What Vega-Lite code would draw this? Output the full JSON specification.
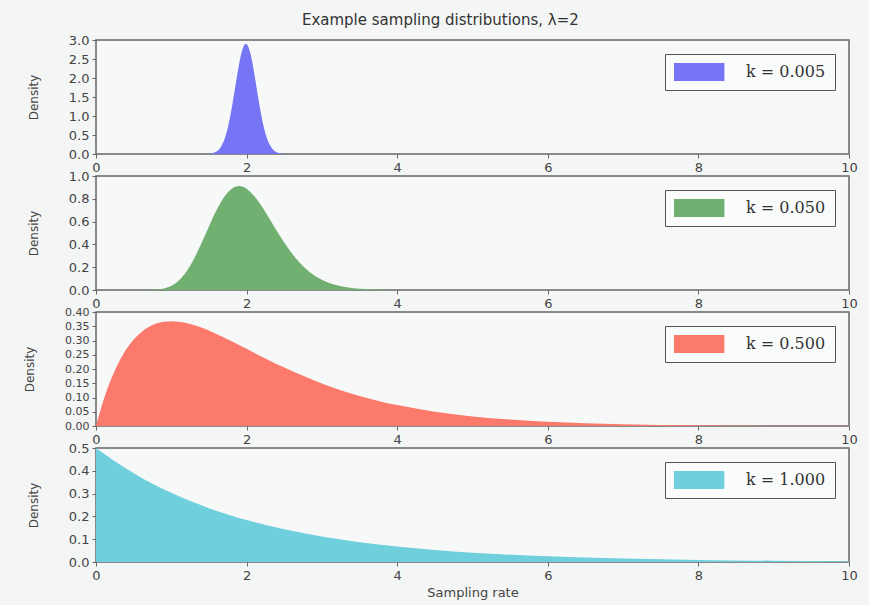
{
  "$schema": "https://vega.github.io/schema/vega-lite/v6.json",
  "background": "#f4f6f6",
  "padding": {"left": 22, "top": 13, "right": 12, "bottom": 5},
  "bounds": "flush",
  "spacing": 22,
  "title": {"text": "Example sampling distributions, λ=2", "fontSize": 15, "font": "DejaVu Sans", "fontWeight": "normal", "color": "#333", "anchor": "middle", "offset": 5},
  "datasets": {
    "d": [
      {"k": "k = 0.005", "x": 0, "y": 0},
      {"k": "k = 0.005", "x": 1.4, "y": 0},
      {"k": "k = 0.005", "x": 1.5, "y": 0.007},
      {"k": "k = 0.005", "x": 1.6, "y": 0.065},
      {"k": "k = 0.005", "x": 1.65, "y": 0.16},
      {"k": "k = 0.005", "x": 1.7, "y": 0.355},
      {"k": "k = 0.005", "x": 1.75, "y": 0.685},
      {"k": "k = 0.005", "x": 1.8, "y": 1.175},
      {"k": "k = 0.005", "x": 1.85, "y": 1.775},
      {"k": "k = 0.005", "x": 1.9, "y": 2.365},
      {"k": "k = 0.005", "x": 1.95, "y": 2.78},
      {"k": "k = 0.005", "x": 1.99, "y": 2.9},
      {"k": "k = 0.005", "x": 2.05, "y": 2.65},
      {"k": "k = 0.005", "x": 2.1, "y": 2.14},
      {"k": "k = 0.005", "x": 2.15, "y": 1.53},
      {"k": "k = 0.005", "x": 2.2, "y": 0.965},
      {"k": "k = 0.005", "x": 2.25, "y": 0.54},
      {"k": "k = 0.005", "x": 2.3, "y": 0.27},
      {"k": "k = 0.005", "x": 2.35, "y": 0.12},
      {"k": "k = 0.005", "x": 2.4, "y": 0.047},
      {"k": "k = 0.005", "x": 2.5, "y": 0.006},
      {"k": "k = 0.005", "x": 2.6, "y": 0},
      {"k": "k = 0.005", "x": 10, "y": 0},

      {"k": "k = 0.050", "x": 0, "y": 0},
      {"k": "k = 0.050", "x": 0.6, "y": 0},
      {"k": "k = 0.050", "x": 0.8, "y": 0.004},
      {"k": "k = 0.050", "x": 0.9, "y": 0.014},
      {"k": "k = 0.050", "x": 1.0, "y": 0.037},
      {"k": "k = 0.050", "x": 1.1, "y": 0.084},
      {"k": "k = 0.050", "x": 1.2, "y": 0.161},
      {"k": "k = 0.050", "x": 1.3, "y": 0.272},
      {"k": "k = 0.050", "x": 1.4, "y": 0.409},
      {"k": "k = 0.050", "x": 1.5, "y": 0.558},
      {"k": "k = 0.050", "x": 1.6, "y": 0.699},
      {"k": "k = 0.050", "x": 1.7, "y": 0.814},
      {"k": "k = 0.050", "x": 1.8, "y": 0.887},
      {"k": "k = 0.050", "x": 1.9, "y": 0.912},
      {"k": "k = 0.050", "x": 2.0, "y": 0.889},
      {"k": "k = 0.050", "x": 2.1, "y": 0.825},
      {"k": "k = 0.050", "x": 2.2, "y": 0.736},
      {"k": "k = 0.050", "x": 2.3, "y": 0.63},
      {"k": "k = 0.050", "x": 2.4, "y": 0.52},
      {"k": "k = 0.050", "x": 2.5, "y": 0.416},
      {"k": "k = 0.050", "x": 2.6, "y": 0.322},
      {"k": "k = 0.050", "x": 2.8, "y": 0.178},
      {"k": "k = 0.050", "x": 3.0, "y": 0.089},
      {"k": "k = 0.050", "x": 3.2, "y": 0.041},
      {"k": "k = 0.050", "x": 3.5, "y": 0.011},
      {"k": "k = 0.050", "x": 4.0, "y": 0.001},
      {"k": "k = 0.050", "x": 4.5, "y": 0},
      {"k": "k = 0.050", "x": 10, "y": 0},

      {"k": "k = 0.500", "x": 0, "y": 0},
      {"k": "k = 0.500", "x": 0.1, "y": 0.0905},
      {"k": "k = 0.500", "x": 0.2, "y": 0.1637},
      {"k": "k = 0.500", "x": 0.3, "y": 0.2222},
      {"k": "k = 0.500", "x": 0.4, "y": 0.2681},
      {"k": "k = 0.500", "x": 0.5, "y": 0.3033},
      {"k": "k = 0.500", "x": 0.6, "y": 0.3293},
      {"k": "k = 0.500", "x": 0.7, "y": 0.3476},
      {"k": "k = 0.500", "x": 0.8, "y": 0.3595},
      {"k": "k = 0.500", "x": 0.9, "y": 0.3659},
      {"k": "k = 0.500", "x": 1.0, "y": 0.3679},
      {"k": "k = 0.500", "x": 1.2, "y": 0.3614},
      {"k": "k = 0.500", "x": 1.4, "y": 0.3452},
      {"k": "k = 0.500", "x": 1.6, "y": 0.323},
      {"k": "k = 0.500", "x": 1.8, "y": 0.2975},
      {"k": "k = 0.500", "x": 2.0, "y": 0.2707},
      {"k": "k = 0.500", "x": 2.25, "y": 0.2371},
      {"k": "k = 0.500", "x": 2.5, "y": 0.2052},
      {"k": "k = 0.500", "x": 2.75, "y": 0.1763},
      {"k": "k = 0.500", "x": 3.0, "y": 0.1494},
      {"k": "k = 0.500", "x": 3.5, "y": 0.1057},
      {"k": "k = 0.500", "x": 4.0, "y": 0.0733},
      {"k": "k = 0.500", "x": 4.5, "y": 0.05},
      {"k": "k = 0.500", "x": 5.0, "y": 0.0337},
      {"k": "k = 0.500", "x": 5.5, "y": 0.0225},
      {"k": "k = 0.500", "x": 6.0, "y": 0.0149},
      {"k": "k = 0.500", "x": 7.0, "y": 0.0064},
      {"k": "k = 0.500", "x": 8.0, "y": 0.0027},
      {"k": "k = 0.500", "x": 9.0, "y": 0.0011},
      {"k": "k = 0.500", "x": 10.0, "y": 0.0005},

      {"k": "k = 1.000", "x": 0, "y": 0.5},
      {"k": "k = 1.000", "x": 0.5, "y": 0.3894},
      {"k": "k = 1.000", "x": 1.0, "y": 0.3033},
      {"k": "k = 1.000", "x": 1.5, "y": 0.2362},
      {"k": "k = 1.000", "x": 2.0, "y": 0.1839},
      {"k": "k = 1.000", "x": 2.5, "y": 0.1433},
      {"k": "k = 1.000", "x": 3.0, "y": 0.1116},
      {"k": "k = 1.000", "x": 3.5, "y": 0.0869},
      {"k": "k = 1.000", "x": 4.0, "y": 0.0677},
      {"k": "k = 1.000", "x": 4.5, "y": 0.0527},
      {"k": "k = 1.000", "x": 5.0, "y": 0.041},
      {"k": "k = 1.000", "x": 6.0, "y": 0.0249},
      {"k": "k = 1.000", "x": 7.0, "y": 0.0151},
      {"k": "k = 1.000", "x": 8.0, "y": 0.0092},
      {"k": "k = 1.000", "x": 9.0, "y": 0.0056},
      {"k": "k = 1.000", "x": 10.0, "y": 0.0034}
    ]
  },
  "vconcat": [
    {
      "width": 753, "height": 114,
      "data": {"name": "d"},
      "transform": [{"filter": "datum.k == 'k = 0.005'"}],
      "mark": {"type": "area", "interpolate": "monotone"},
      "encoding": {
        "x": {"field": "x", "type": "quantitative", "scale": {"domain": [0, 10], "nice": false}, "axis": {"values": [0, 2, 4, 6, 8, 10], "title": null}},
        "y": {"field": "y", "type": "quantitative", "scale": {"domain": [0, 3], "nice": false}, "axis": {"values": [0, 0.5, 1, 1.5, 2, 2.5, 3], "format": ".1f", "title": "Density"}},
        "color": {"field": "k", "type": "nominal", "scale": {"domain": ["k = 0.005"], "range": ["#7575f6"]}, "legend": {"title": null, "symbolFillColor": "#3a3ad0"}}
      }
    },
    {
      "width": 753, "height": 114,
      "data": {"name": "d"},
      "transform": [{"filter": "datum.k == 'k = 0.050'"}],
      "mark": {"type": "area", "interpolate": "monotone"},
      "encoding": {
        "x": {"field": "x", "type": "quantitative", "scale": {"domain": [0, 10], "nice": false}, "axis": {"values": [0, 2, 4, 6, 8, 10], "title": null}},
        "y": {"field": "y", "type": "quantitative", "scale": {"domain": [0, 1], "nice": false}, "axis": {"values": [0, 0.2, 0.4, 0.6, 0.8, 1.0], "format": ".1f", "title": "Density"}},
        "color": {"field": "k", "type": "nominal", "scale": {"domain": ["k = 0.050"], "range": ["#72b072"]}, "legend": {"title": null, "symbolFillColor": "#3d8a3d"}}
      }
    },
    {
      "width": 753, "height": 114,
      "data": {"name": "d"},
      "transform": [{"filter": "datum.k == 'k = 0.500'"}],
      "mark": {"type": "area", "interpolate": "monotone"},
      "encoding": {
        "x": {"field": "x", "type": "quantitative", "scale": {"domain": [0, 10], "nice": false}, "axis": {"values": [0, 2, 4, 6, 8, 10], "title": null}},
        "y": {"field": "y", "type": "quantitative", "scale": {"domain": [0, 0.4], "nice": false}, "axis": {"values": [0, 0.05, 0.1, 0.15, 0.2, 0.25, 0.3, 0.35, 0.4], "format": ".2f", "title": "Density", "labelOverlap": false, "labelFontSize": 11}},
        "color": {"field": "k", "type": "nominal", "scale": {"domain": ["k = 0.500"], "range": ["#fb7a6c"]}, "legend": {"title": null, "symbolFillColor": "#e0453a"}}
      }
    },
    {
      "width": 753, "height": 114,
      "data": {"name": "d"},
      "transform": [{"filter": "datum.k == 'k = 1.000'"}],
      "mark": {"type": "area", "interpolate": "monotone"},
      "encoding": {
        "x": {"field": "x", "type": "quantitative", "scale": {"domain": [0, 10], "nice": false}, "axis": {"values": [0, 2, 4, 6, 8, 10], "title": "Sampling rate"}},
        "y": {"field": "y", "type": "quantitative", "scale": {"domain": [0, 0.5], "nice": false}, "axis": {"values": [0, 0.1, 0.2, 0.3, 0.4, 0.5], "format": ".1f", "title": "Density"}},
        "color": {"field": "k", "type": "nominal", "scale": {"domain": ["k = 1.000"], "range": ["#70cfdc"]}, "legend": {"title": null, "symbolFillColor": "#3fb3c2"}}
      }
    }
  ],
  "resolve": {"scale": {"color": "independent", "x": "independent", "y": "independent"}, "legend": {"color": "independent"}, "axis": {"x": "independent", "y": "independent"}},
  "config": {
    "view": {"stroke": "#666", "strokeWidth": 1.5, "fill": "#f7f9f9"},
    "axis": {"labelFont": "DejaVu Sans", "labelFontSize": 13, "labelColor": "#444", "titleFont": "DejaVu Sans", "titleFontSize": 12, "titleFontWeight": "normal", "titleColor": "#444", "grid": false, "domain": false, "ticks": true, "tickSize": 4, "tickColor": "#666", "labelPadding": 3, "labelFlush": false},
    "axisY": {"titlePadding": 28},
    "axisX": {"titlePadding": 4, "titleFontSize": 13},
    "legend": {"orient": "top-right", "offset": 14, "strokeColor": "#555", "fillColor": "#fafcfc", "padding": 9, "labelFont": "DejaVu Serif", "labelFontSize": 16, "labelColor": "#333", "symbolType": "M-1,-1H4.6V1H-1Z", "symbolSize": 324, "symbolStrokeWidth": 0, "labelOffset": 54, "symbolOpacity": 1, "cornerRadius": 0}
  }
}
